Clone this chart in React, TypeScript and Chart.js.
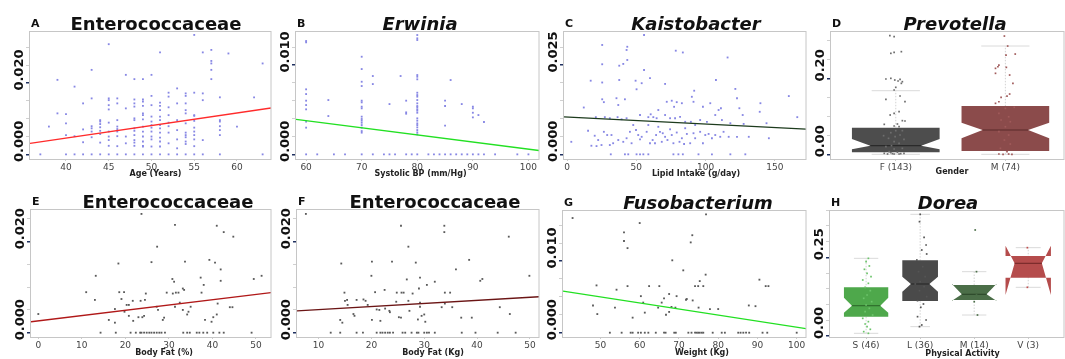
import React, { useEffect, useRef } from 'react';
import { Chart, registerables } from 'chart.js';

Chart.register(...registerables);

const FONT = "'DejaVu Sans', Verdana, sans-serif";
Chart.defaults.font.family = FONT;

type Pt = [number, number];

// ---------------- tick values ----------------
const ageTicks = [40, 45, 50, 55, 60];
const sbpTicks = [60, 70, 80, 90, 100];
const lipidTicks = [0, 50, 100, 150];
const genderGroups = ['F (143)', 'M (74)'];
const bodyFatPctTicks = [0, 10, 20, 30, 40, 50];
const bodyFatKgTicks = [10, 20, 30, 40, 50];
const weightTicks = [50, 60, 70, 80, 90, 100];
const activityGroups = ['S (46)', 'L (36)', 'M (14)', 'V (3)'];

const enteroAxisTicks = [0, 0.005, 0.01, 0.015, 0.02, 0.025, 0.03];
const erwiniaAxisTicks = [0, 0.002, 0.004, 0.006, 0.008, 0.01, 0.012];
const kaistoAxisTicks = [0, 0.005, 0.01, 0.015, 0.02, 0.025, 0.03];
const prevotellaAxisTicks = [0, 0.05, 0.1, 0.15, 0.2, 0.25, 0.3];
const entero2AxisTicks = [0, 0.005, 0.01, 0.015, 0.02, 0.025];
const fusoAxisTicks = [0, 0.0025, 0.005, 0.0075, 0.01, 0.0125, 0.015];
const doreaAxisTicks = [0, 0.05, 0.1, 0.15, 0.2, 0.25, 0.3, 0.35, 0.4];

// ---------------- A: Enterococcaceae vs age ----------------
const enteroByAge: Pt[] = [
  [37, 0], [38, 0.0078], [39, 0.0209], [39, 0.0115],
  [40, 0.0113], [40, 0.0087], [40, 0.0054], [40, 0],
  [41, 0.019], [41, 0.0051], [41, 0],
  [42, 0.0143], [42, 0.007], [42, 0.0034], [42, 0],
  [43, 0.0237], [43, 0.0157], [43, 0.0079], [43, 0.0073], [43, 0.0064], [43, 0.0048], [43, 0],
  [44, 0.0096], [44, 0.0092], [44, 0.0085], [44, 0.0076], [44, 0.0066], [44, 0.0057], [44, 0.0033], [44, 0],
  [45, 0.0309], [45, 0.0157], [45, 0.0152], [45, 0.0138], [45, 0.0126], [45, 0.0089], [45, 0.0064], [45, 0.005], [45, 0.004], [45, 0.0024], [45, 0],
  [46, 0.0157], [46, 0.0143], [46, 0.0096], [46, 0.0078], [46, 0.0071], [46, 0.0064], [46, 0.0051], [46, 0.0023], [46, 0],
  [47, 0.0223], [47, 0.0129], [47, 0.005], [47, 0.0031], [47, 0],
  [48, 0.0211], [48, 0.0154], [48, 0.0143], [48, 0.0134], [48, 0.0101], [48, 0.0096], [48, 0.0073], [48, 0.0066], [48, 0.0054], [48, 0.004], [48, 0.0033], [48, 0.0024], [48, 0],
  [49, 0.0211], [49, 0.0154], [49, 0.0148], [49, 0.0136], [49, 0.0115], [49, 0.011], [49, 0.0098], [49, 0.0078], [49, 0.0064], [49, 0.005], [49, 0.0036], [49, 0.0024], [49, 0.0022], [49, 0],
  [50, 0.0223], [50, 0.0164], [50, 0.0138], [50, 0.0106], [50, 0.0092], [50, 0.0082], [50, 0.0075], [50, 0.0064], [50, 0.005], [50, 0.0042], [50, 0.0022], [50, 0],
  [51, 0.0286], [51, 0.0145], [51, 0.0136], [51, 0.0124], [51, 0.0106], [51, 0.0096], [51, 0.0082], [51, 0.0073], [51, 0.0061], [51, 0.0047], [51, 0.0036], [51, 0.0022], [51, 0],
  [52, 0.0173], [52, 0.0162], [52, 0.0132], [52, 0.011], [52, 0.0089], [52, 0.0079], [52, 0.0061], [52, 0.0031], [52, 0],
  [53, 0.0185], [53, 0.0143], [53, 0.0096], [53, 0.0068], [53, 0.0042], [53, 0.0017], [53, 0],
  [54, 0.0171], [54, 0.0164], [54, 0.0143], [54, 0.0124], [54, 0.0115], [54, 0.0087], [54, 0.0061], [54, 0.0054], [54, 0.0048], [54, 0.0036], [54, 0.0029], [54, 0],
  [55, 0.0335], [55, 0.0173], [55, 0.011], [55, 0.0108], [55, 0.0094], [55, 0.0075], [55, 0.0064], [55, 0.0054], [55, 0.0042], [55, 0.0023], [55, 0],
  [56, 0.0286], [56, 0.0171], [56, 0.0152], [56, 0.004], [56, 0],
  [57, 0.0293], [57, 0.0262], [57, 0.0255], [57, 0.0237], [57, 0.0211],
  [58, 0.016], [58, 0.0096], [58, 0.0092], [58, 0.0079], [58, 0.0068], [58, 0.0054], [58, 0],
  [59, 0.0283], [60, 0.0078], [62, 0.016], [63, 0.0255], [63, 0],
];
const enteroAgeFit: Pt[] = [[35.79, 0.0031], [63.98, 0.013]];

// ---------------- B: Erwinia vs systolic BP ----------------
const erwiniaBySbp: Pt[] = [
  [60, 0.01269], [60, 0.01254], [60, 0.00728], [60, 0.00675], [60, 0.00601], [60, 0.00552], [60, 0.00504], [60, 0.00366], [60, 0.00299], [60, 0],
  [62, 0], [64, 0.00608], [64, 0.00429], [65, 0], [67, 0],
  [70, 0.01093], [70, 0.00955], [70, 0.00813], [70, 0.00765], [70, 0.00601], [70, 0.00582], [70, 0.00534], [70, 0.00515], [70, 0.00422], [70, 0.00396], [70, 0.00377], [70, 0.00354], [70, 0.00328], [70, 0.00299], [70, 0.00261], [70, 0.00243], [70, 0],
  [72, 0.00877], [72, 0.00787], [72, 0], [74, 0], [75, 0.00563], [75, 0], [76, 0], [77, 0.00877],
  [78, 0.00601], [78, 0.0047], [78, 0.00455], [78, 0], [79, 0],
  [80, 0.01336], [80, 0.01299], [80, 0.0128], [80, 0.00888], [80, 0.00869], [80, 0.0084], [80, 0.0069], [80, 0.00664], [80, 0.00646], [80, 0.00608], [80, 0.00571], [80, 0.00541], [80, 0.00526], [80, 0.00504], [80, 0.00489], [80, 0.00466], [80, 0.00403], [80, 0.00377], [80, 0.00347], [80, 0.00328], [80, 0.00302], [80, 0.00272], [80, 0.00246], [80, 0.00224], [80, 0],
  [82, 0], [83, 0], [84, 0], [85, 0.00601], [85, 0.00541], [85, 0.00321], [85, 0], [86, 0.00832], [86, 0], [87, 0], [88, 0.00563], [88, 0], [89, 0],
  [90, 0.00534], [90, 0.00515], [90, 0.00466], [90, 0.00414], [90, 0], [91, 0.0044], [91, 0], [92, 0.00362], [92, 0], [94, 0], [98, 0], [100, 0],
];
const erwiniaSbpFit: Pt[] = [[58.18, 0.00392], [101.9, 0.00043]];

// ---------------- C: Kaistobacter vs lipid intake ----------------
const kaistoByLipid: Pt[] = [
  [55.6, 0.0334], [25.4, 0.0306], [43.5, 0.0301], [43, 0.0292], [78.5, 0.029], [83.6, 0.0285], [115.9, 0.0271], [25.4, 0.0252], [43.5, 0.0264], [37.7, 0.0248], [40.6, 0.0253], [55.6, 0.0236],
  [160.1, 0.0163], [17.1, 0.0206], [37.7, 0.0208], [25.4, 0.0201], [49.5, 0.0206], [59.9, 0.0213], [53.9, 0.0199], [50.2, 0.0182], [70.8, 0.0197], [107.5, 0.0208], [121.5, 0.0183], [91.8, 0.0178],
  [35.7, 0.0157], [25.4, 0.0154], [26.6, 0.0146], [41.8, 0.0154], [37, 0.0138], [12.1, 0.0131], [72, 0.0147], [75.6, 0.015], [79.2, 0.0146], [77.3, 0.0133], [82.9, 0.0143], [90.1, 0.0161],
  [91.3, 0.0147], [98.1, 0.0133], [103.4, 0.0143], [111.1, 0.0129], [109.4, 0.0124], [122.7, 0.0157], [124.4, 0.0129], [139.6, 0.0143], [139.1, 0.0119], [126.8, 0.011], [166.2, 0.0104],
  [20.8, 0.0104], [27.3, 0.0104], [30.9, 0.0101], [36.5, 0.0104], [39.4, 0.0098], [43, 0.0101], [52.7, 0.011], [58.7, 0.0104], [60.4, 0.0112], [62.3, 0.0104], [64.7, 0.0101], [65.9, 0.0124],
  [70.8, 0.011], [74.4, 0.0101], [78, 0.0101], [81.6, 0.0105], [85.3, 0.0091], [89.4, 0.0091], [92.5, 0.0082], [96.1, 0.0096], [101, 0.0091], [107, 0.011], [111.8, 0.0096], [117.9, 0.0087],
  [127.5, 0.0085], [144, 0.0087],
  [15.2, 0.0066], [20, 0.0052], [26.6, 0.0063], [29, 0.0054], [30.9, 0.0026], [32.1, 0.0054], [37, 0.004], [43, 0.0045], [45.4, 0.0063], [47.8, 0.0082], [49.8, 0.0068], [51.4, 0.0054],
  [53.9, 0.0049], [57.5, 0.0063], [58.7, 0.0082], [61.8, 0.004], [64.3, 0.0054], [65.9, 0.0077], [67.1, 0.0063], [69.1, 0.0059], [70.8, 0.0049], [72.5, 0.004], [74.4, 0.007], [75.6, 0.0054],
  [79.2, 0.0061], [81.2, 0.0035], [82.9, 0.0045], [85.3, 0.0073], [86.5, 0.0057], [88.9, 0.0031], [91.3, 0.0059], [92.5, 0.0045], [96.1, 0.0063], [98.1, 0.0031], [99.8, 0.0054], [102.2, 0.0057],
  [104.6, 0.0045], [107, 0.0054], [110.6, 0.0049], [113, 0.0063], [116.7, 0.0049], [122.7, 0.0049], [131.2, 0.0049], [145.7, 0.0045], [22.5, 0.004], [24.9, 0.0026], [17.6, 0.0024], [3.1, 0.0035],
  [21.3, 0.0023], [33.3, 0.0031], [40.6, 0.0035], [46.6, 0.0031], [52.7, 0.0042], [59.9, 0.0031], [63.5, 0.0031], [68.4, 0.0035], [76.8, 0.0031], [84.5, 0.0029],
  [31.6, 0], [41.8, 0], [44.2, 0], [50.2, 0], [52.7, 0], [55.1, 0], [58.7, 0], [76.8, 0], [80.4, 0], [83.6, 0], [94.9, 0], [104.6, 0], [117.9, 0], [128.7, 0],
];
const kaistoLipidFit: Pt[] = [[-2.17, 0.01046], [172.5, 0.00706]];

// ---------------- D: Prevotella by gender ----------------
const prevotellaWhiskerLow = [0, 0];
const prevotellaQ1 = [0.0053, 0.0088];
const prevotellaNotchLow = [0.0132, 0.0421];
const prevotellaMedian = [0.0228, 0.064];
const prevotellaNotchHigh = [0.0404, 0.0833];
const prevotellaQ3 = [0.0702, 0.1272];
const prevotellaWhiskerHigh = [0.1675, 0.2851];
const prevotellaFemale: Pt[] = [
  [0.946, 0.3123], [0.985, 0.3096], [0.955, 0.2658], [0.985, 0.2684], [1.051, 0.2702], [0.91, 0.1982], [0.955, 0.2], [0.991, 0.1956], [1.039, 0.1974], [1.051, 0.1868], [1.021, 0.193],
  [1.06, 0.1912], [1.0, 0.1763], [0.985, 0.1693], [0.91, 0.1447], [1.039, 0.1535], [1.084, 0.1386], [1.03, 0.1123], [0.985, 0.1079], [0.949, 0.1035], [1.06, 0.0886], [1.084, 0.0877],
  [1.015, 0.0798], [0.895, 0.0789], [0.985, 0.0746], [1.03, 0.0728], [1.0, 0.0623], [1.06, 0.0623], [0.955, 0.057], [1.039, 0.0509], [0.889, 0.0491], [0.994, 0.0465], [0.934, 0.0421],
  [1.075, 0.0395], [0.985, 0.0333], [1.03, 0.0289], [0.961, 0.0228], [0.91, 0.0202], [1.06, 0.0158], [0.985, 0.014], [0.94, 0.007], [1.015, 0.0053], [0.895, 0.0026], [0.97, 0.0018],
  [1.045, 0.0018], [0.925, 0.0009], [1.075, 0.0026], [0.985, 0.0009], [1.03, 0.0009], [0.955, 0.0044],
];
const prevotellaMale: Pt[] = [
  [1.991, 0.3113], [2.021, 0.285], [2.006, 0.2613], [2.09, 0.2639], [1.932, 0.2305], [1.91, 0.2263], [1.941, 0.235], [2.009, 0.2289], [1.91, 0.2132], [2.039, 0.2087], [2.069, 0.1868],
  [2.039, 0.1587], [2.015, 0.1534], [1.961, 0.15], [1.941, 0.1384], [1.91, 0.1342], [2.0, 0.121], [2.081, 0.1237], [1.941, 0.1079], [2.03, 0.0989], [1.961, 0.0903], [2.045, 0.0858],
  [2.0, 0.0726], [1.941, 0.0595], [2.03, 0.0508], [1.991, 0.0376], [2.045, 0.0271], [1.955, 0.0158], [2.015, 0.0068], [1.941, 0.0008], [1.979, 0], [2.03, 0.0008], [2.06, 0],
];

// ---------------- E: Enterococcaceae vs body fat % ----------------
const enteroByFatPct: Pt[] = [
  [0, 0.0041], [13.2, 0.0125], [11, 0.0089], [13, 0.0072], [16.2, 0.0028], [17.6, 0.0052], [17.6, 0.0022], [18.4, 0.0152], [18.6, 0.0089], [19.1, 0.0074], [19.7, 0.0089], [19.8, 0.0046],
  [20.3, 0.0061], [20.8, 0.0061], [20.8, 0.0037], [21.7, 0.007], [21.8, 0.0026], [23, 0.0034], [23.5, 0.007], [23.7, 0.0261], [23.9, 0.0034], [24.3, 0.0037], [24.5, 0.0072], [24.7, 0.0086],
  [26, 0.0155], [27.3, 0.0189], [27.2, 0.0057], [27.5, 0.005], [28.6, 0.0028], [28.9, 0.0033], [29.5, 0.0088], [30.8, 0.0118], [31.2, 0.0112], [30.9, 0.0086], [31.4, 0.0237], [31.4, 0.0057],
  [31.6, 0.0088], [32.2, 0.0088], [32.5, 0.0066], [33.2, 0.0097], [33.5, 0.0094], [33.2, 0.005], [33.7, 0.0156], [34.2, 0.004], [34.5, 0.0046], [35, 0.0057], [37.3, 0.0121], [37.5, 0.0088],
  [38, 0.0105], [38.3, 0.0028], [39.3, 0.016], [39.8, 0.0024], [40.2, 0.0034], [40.6, 0.0154], [41, 0.0235], [41, 0.004], [41.2, 0.0064], [41.9, 0.0139], [41.9, 0.0114], [42.6, 0.0221],
  [44, 0.0056], [44.6, 0.0056], [44.8, 0.0211], [49.5, 0.0118], [51.3, 0.0125],
  [14.3, 0], [17.8, 0], [21.2, 0], [22.4, 0], [23.4, 0], [23.7, 0], [24.3, 0], [24.9, 0], [25.5, 0], [26, 0], [26.6, 0], [27.2, 0], [27.8, 0], [28.3, 0], [29.1, 0], [33.3, 0], [34.2, 0],
  [34.8, 0], [36.4, 0], [37, 0], [37.9, 0], [38.8, 0], [40.2, 0], [41.6, 0], [42.6, 0], [49, 0],
];
const enteroFatPctFit: Pt[] = [[-1.68, 0.0024], [53.46, 0.0088]];

// ---------------- F: Enterococcaceae vs body fat kg ----------------
const enteroByFatKg: Pt[] = [
  [7.6, 0.0261], [14.3, 0.0152], [14.1, 0.0028], [14.5, 0.0022], [14.9, 0.0088], [15, 0.007], [15.4, 0.0072], [15.5, 0.0061], [16.6, 0.0041], [16.8, 0.0037], [17.2, 0.0072], [18.5, 0.0073],
  [18.9, 0.007], [19.3, 0.0061], [20, 0.0125], [20.1, 0.0156], [20.1, 0.0028], [20.7, 0.0089], [21, 0.0051], [21.5, 0.005], [21.7, 0.0026], [22.5, 0.0094], [22.6, 0.0053], [23.4, 0.0048],
  [23.5, 0.0045], [23.9, 0.0156], [24.7, 0.0068], [24.8, 0.0088], [25.2, 0.0034], [25.6, 0.0033], [25.6, 0.0235], [25.7, 0.0088], [26.1, 0.0088], [26.7, 0.0117], [27, 0.0189], [27, 0.007],
  [27.2, 0.0048], [27.8, 0.0086], [28.4, 0.0154], [28.8, 0.0029], [29, 0.0097], [29.2, 0.0121], [29.2, 0.0066], [29.2, 0.0057], [29.5, 0.0037], [30, 0.004], [30.2, 0.0024], [30.5, 0.0105],
  [32, 0.0112], [33.3, 0.0056], [33.8, 0.0235], [33.8, 0.0221], [33.9, 0.0088], [33.9, 0.0064], [34.9, 0.0088], [35.3, 0.0056], [36, 0.0139], [37, 0.0033], [38.5, 0.016], [39, 0.0033],
  [40.6, 0.0114], [41, 0.0118], [44.3, 0.0056], [46, 0.0211], [46.2, 0.0041], [49.9, 0.0125],
  [12.3, 0], [14.1, 0], [17.2, 0], [18.4, 0], [21, 0], [21.7, 0], [22.1, 0], [22.6, 0], [23.1, 0], [23.5, 0], [24.1, 0], [25.9, 0], [26.4, 0], [27.6, 0], [28.6, 0], [28.9, 0], [30, 0],
  [30.5, 0], [30.9, 0], [32, 0], [37.1, 0], [39.7, 0], [43.9, 0], [47.3, 0],
];
const enteroFatKgFit: Pt[] = [[5.92, 0.0048], [51.72, 0.0079]];

// ---------------- G: Fusobacterium vs weight ----------------
const fusoByWeight: Pt[] = [
  [42.9, 0.016], [60, 0.0153], [56, 0.014], [56, 0.0128], [56.9, 0.0118], [76.9, 0.0165], [73.4, 0.0136], [73, 0.0126], [68.3, 0.0101], [71.1, 0.0087], [76.8, 0.0081], [75.3, 0.0072],
  [74.1, 0.0065], [74.9, 0.0065], [76.2, 0.0065], [90.5, 0.0074], [92.1, 0.0065], [92.8, 0.0065], [49, 0.0066], [54.1, 0.006], [56.9, 0.0065], [62.4, 0.0065], [65, 0.0065], [60.3, 0.0051],
  [60.9, 0.0042], [61.3, 0.0028], [48.1, 0.0038], [49.2, 0.0026], [53.7, 0.0035], [58.2, 0.0021], [64.7, 0.0035], [65.6, 0.0042], [66.2, 0.0048], [67.5, 0.0054], [69.4, 0.0051], [68.1, 0.0036],
  [69.1, 0.0035], [66.7, 0.0025], [67.5, 0.0029], [71.8, 0.0046], [72, 0.0047], [73.5, 0.0045], [75, 0.0035], [77.9, 0.0033], [80, 0.0033], [87.8, 0.0038], [89.5, 0.0037],
  [52.4, 0], [55.4, 0], [57.7, 0], [58.2, 0], [59.6, 0], [60.3, 0], [61.3, 0], [62.2, 0], [64.1, 0], [66.2, 0], [66.6, 0], [68.8, 0], [69.2, 0], [72.4, 0], [73.2, 0], [74.1, 0], [74.5, 0],
  [74.9, 0], [75.3, 0], [75.8, 0], [76.2, 0], [78.6, 0], [80.9, 0], [81.7, 0], [85.1, 0], [85.7, 0], [86.4, 0], [87.1, 0], [87.9, 0], [91.3, 0], [92.5, 0], [100, 0],
];
const fusoWeightFit: Pt[] = [[40.46, 0.0058], [102.37, 0.00057]];

// ---------------- H: Dorea by physical activity ----------------
const doreaWhiskerLow = [0.0085, 0.0297, 0.0667, 0.1547];
const doreaQ1 = [0.0614, 0.1112, 0.1144, 0.1854];
const doreaNotchLow = [0.0742, 0.1409, 0.1123, 0.1303];
const doreaMedian = [0.0964, 0.1653, 0.1324, 0.2309];
const doreaNotchHigh = [0.1218, 0.1886, 0.1653, 0.2871];
const doreaQ3 = [0.1547, 0.2405, 0.1621, 0.2542];
const doreaWhiskerHigh = [0.2468, 0.3867, 0.2044, 0.2807];
const doreaSedentary: Pt[] = [
  [1.042, 0.2468], [1.0, 0.2362], [1.06, 0.2225], [0.969, 0.2119], [1.018, 0.1992], [1.091, 0.1886], [0.938, 0.178], [1.042, 0.1674], [0.982, 0.1547], [1.078, 0.1441], [1.018, 0.1303],
  [0.956, 0.1197], [1.103, 0.1091], [1.0, 0.0985], [1.06, 0.0879], [0.982, 0.0773], [1.121, 0.0667], [0.938, 0.0561], [1.042, 0.0456], [0.982, 0.0381], [1.018, 0.0297], [1.078, 0.0212],
  [0.956, 0.0138], [1.042, 0.0085],
];
const doreaLight: Pt[] = [
  [2.001, 0.3867], [1.988, 0.3633], [2.073, 0.3136], [2.11, 0.2892], [2.03, 0.2733], [2.121, 0.2606], [1.939, 0.2415], [2.048, 0.2203], [1.97, 0.2044], [2.092, 0.1886], [2.001, 0.1727],
  [1.91, 0.1653], [2.073, 0.1568], [1.988, 0.1441], [2.121, 0.125], [1.952, 0.1123], [2.061, 0.1017], [2.012, 0.0911], [1.952, 0.0614], [2.11, 0.0508], [2.03, 0.035], [1.988, 0.0297],
];
const doreaModerate: Pt[] = [
  [3.019, 0.3369], [3.043, 0.2044], [3.001, 0.1589], [3.061, 0.1515], [3.019, 0.1409], [3.043, 0.1303], [3.001, 0.1091], [3.061, 0.0667],
];
const doreaVigorous: Pt[] = [[3.984, 0.2807], [3.984, 0.1547]];

// ---------------- panel specs ----------------
interface BoxDef {
  pos: number; width: number; wLo: number; q1: number; nLo: number; med: number; nHi: number; q3: number; wHi: number;
  fill: string; medianColor: string; inset: number;
}
interface PanelSpec {
  letter: string; title: string; italic: boolean; titleDx: number;
  xTitle: string; xTitleDx: number; xTitleDy: number;
  area: { l: number; t: number; r: number; b: number };
  padRight: number;
  xMin: number; xMax: number; xTicks: number[]; xLabels?: string[];
  yMin: number; yMax: number; yTicks: number[]; yMajor: number[]; yLabels: string[];
  points?: Pt[]; pointColor?: string;
  fit?: Pt[]; fitColor?: string;
  boxes?: BoxDef[];
  jitter?: { pts: Pt[]; color: string }[];
}

function boxesFrom(
  pos: number[], widths: number[], wLo: number[], q1: number[], nLo: number[], med: number[], nHi: number[], q3: number[], wHi: number[],
  fills: string[], medColors: string[], insets: number[]
): BoxDef[] {
  return pos.map((p, i) => ({
    pos: p, width: widths[i], wLo: wLo[i], q1: q1[i], nLo: nLo[i], med: med[i], nHi: nHi[i], q3: q3[i], wHi: wHi[i],
    fill: fills[i], medianColor: medColors[i], inset: insets[i],
  }));
}

const PANELS: PanelSpec[] = [
  {
    letter: 'A', title: 'Enterococcaceae', italic: false, titleDx: 5.5, xTitle: 'Age (Years)', xTitleDx: 5, xTitleDy: 15,
    area: { l: 30, t: 31, r: 271, b: 159 }, padRight: 6,
    xMin: 35.79, xMax: 63.98, xTicks: ageTicks,
    yMin: -0.0013, yMax: 0.0346, yTicks: enteroAxisTicks, yMajor: [0, 0.02], yLabels: ['0.000', '0.020'],
    points: enteroByAge, pointColor: '#8787e4', fit: enteroAgeFit, fitColor: '#ff2b2b',
  },
  {
    letter: 'B', title: 'Erwinia', italic: true, titleDx: 2.5, xTitle: 'Systolic BP (mm/Hg)', xTitleDx: 3, xTitleDy: 15,
    area: { l: 296, t: 31, r: 539, b: 159 }, padRight: 6,
    xMin: 58.18, xMax: 101.9, xTicks: sbpTicks,
    yMin: -0.00052, yMax: 0.01381, yTicks: erwiniaAxisTicks, yMajor: [0, 0.01], yLabels: ['0.000', '0.010'],
    points: erwiniaBySbp, pointColor: '#8787e4', fit: erwiniaSbpFit, fitColor: '#22e022',
  },
  {
    letter: 'C', title: 'Kaistobacter', italic: true, titleDx: 11, xTitle: 'Lipid Intake (g/day)', xTitleDx: 11, xTitleDy: 15,
    area: { l: 564, t: 31, r: 806, b: 159 }, padRight: 6,
    xMin: -2.17, xMax: 172.5, xTicks: lipidTicks,
    yMin: -0.00131, yMax: 0.03451, yTicks: kaistoAxisTicks, yMajor: [0, 0.025], yLabels: ['0.000', '0.025'],
    points: kaistoByLipid, pointColor: '#8787e4', fit: kaistoLipidFit, fitColor: '#1d3b1d',
  },
  {
    letter: 'D', title: 'Prevotella', italic: true, titleDx: 7.5, xTitle: 'Gender', xTitleDx: 4.5, xTitleDy: 13,
    area: { l: 831, t: 31, r: 1068, b: 159 }, padRight: 0,
    xMin: 0.409, xMax: 2.535, xTicks: [1, 2], xLabels: genderGroups,
    yMin: -0.0123, yMax: 0.3246, yTicks: prevotellaAxisTicks, yMajor: [0, 0.2], yLabels: ['0.00', '0.20'],
    boxes: boxesFrom([1, 2], [0.8, 0.8], prevotellaWhiskerLow, prevotellaQ1, prevotellaNotchLow, prevotellaMedian, prevotellaNotchHigh,
      prevotellaQ3, prevotellaWhiskerHigh, ['#4d4d4d', '#8b4b4b'], ['#2a2a2a', '#5a2a2a'], [0.21, 0.24]),
    jitter: [{ pts: prevotellaFemale, color: '#6e6e6e' }, { pts: prevotellaMale, color: '#a05a5a' }],
  },
  {
    letter: 'E', title: 'Enterococcaceae', italic: false, titleDx: 17, xTitle: 'Body Fat (%)', xTitleDx: 13, xTitleDy: 16,
    area: { l: 31, t: 209, r: 271, b: 337 }, padRight: 6,
    xMin: -1.68, xMax: 53.46, xTicks: bodyFatPctTicks,
    yMin: -0.00095, yMax: 0.02718, yTicks: entero2AxisTicks, yMajor: [0, 0.02], yLabels: ['0.000', '0.020'],
    points: enteroByFatPct, pointColor: '#5a5a5a', fit: enteroFatPctFit, fitColor: '#b01818',
  },
  {
    letter: 'F', title: 'Enterococcaceae', italic: false, titleDx: 17, xTitle: 'Body Fat (Kg)', xTitleDx: 15, xTitleDy: 16,
    area: { l: 297, t: 209, r: 539, b: 337 }, padRight: 6,
    xMin: 5.92, xMax: 51.72, xTicks: bodyFatKgTicks,
    yMin: -0.00095, yMax: 0.02718, yTicks: entero2AxisTicks, yMajor: [0, 0.02], yLabels: ['0.000', '0.020'],
    points: enteroByFatKg, pointColor: '#5a5a5a', fit: enteroFatKgFit, fitColor: '#6b1515',
  },
  {
    letter: 'G', title: 'Fusobacterium', italic: true, titleDx: 13.5, xTitle: 'Weight (Kg)', xTitleDx: 17.5, xTitleDy: 16,
    area: { l: 563, t: 210, r: 806, b: 337 }, padRight: 6,
    xMin: 40.46, xMax: 102.37, xTicks: weightTicks,
    yMin: -0.0006, yMax: 0.01712, yTicks: fusoAxisTicks, yMajor: [0, 0.01], yLabels: ['0.000', '0.010'],
    points: fusoByWeight, pointColor: '#5a5a5a', fit: fusoWeightFit, fitColor: '#22e022',
  },
  {
    letter: 'H', title: 'Dorea', italic: true, titleDx: 1, xTitle: 'Physical Activity', xTitleDx: 15.5, xTitleDy: 17,
    area: { l: 830, t: 210, r: 1068, b: 337 }, padRight: 0,
    xMin: 0.332, xMax: 4.662, xTicks: [1, 2, 3, 4], xLabels: activityGroups,
    yMin: -0.0032, yMax: 0.4004, yTicks: doreaAxisTicks, yMajor: [0, 0.25], yLabels: ['0.00', '0.25'],
    boxes: boxesFrom([1, 2, 3, 4], [0.82, 0.66, 0.82, 0.84], doreaWhiskerLow, doreaQ1, doreaNotchLow, doreaMedian, doreaNotchHigh,
      doreaQ3, doreaWhiskerHigh, ['#4ea84b', '#4a4a4a', '#4b6e48', '#b54c4c'], ['#2f6e2d', '#2a2a2a', '#2e4a2c', '#7a2a2a'], [0.18, 0.24, 0.22, 0.2]),
    jitter: [
      { pts: doreaSedentary, color: '#6cc46a' }, { pts: doreaLight, color: '#555555' },
      { pts: doreaModerate, color: '#4b6e48' }, { pts: doreaVigorous, color: '#c05050' },
    ],
  },
];

const Y_AXIS_W = 30;
const TOP_PAD = 31;
const X_AXIS_H = 24;

function near(a: number, b: number) { return Math.abs(a - b) < 1e-9; }

function makeDecor(spec: PanelSpec) {
  return {
    id: 'decor' + spec.letter,
    beforeDatasetsDraw(chart: any) {
      if (!spec.boxes) return;
      const { ctx } = chart;
      const xs = chart.scales.x, ys = chart.scales.y;
      ctx.save();
      for (const b of spec.boxes) {
        const cx = xs.getPixelForValue(b.pos);
        const half = (xs.getPixelForValue(b.pos + b.width / 2) - xs.getPixelForValue(b.pos - b.width / 2)) / 2;
        const py = (v: number) => ys.getPixelForValue(v);
        ctx.strokeStyle = '#d2d2d2';
        ctx.lineWidth = 1;
        ctx.setLineDash([1.5, 1.5]);
        ctx.beginPath(); ctx.moveTo(cx, py(b.wLo)); ctx.lineTo(cx, py(b.wHi)); ctx.stroke();
        ctx.setLineDash([]);
        const cap = half * 0.55;
        ctx.strokeStyle = '#dadada';
        for (const v of [b.wLo, b.wHi]) {
          ctx.beginPath(); ctx.moveTo(cx - cap, py(v)); ctx.lineTo(cx + cap, py(v)); ctx.stroke();
        }
        const L = cx - half, R = cx + half, ins = half * 2 * b.inset;
        ctx.fillStyle = b.fill;
        ctx.beginPath();
        ctx.moveTo(L, py(b.q3)); ctx.lineTo(L, py(b.nHi)); ctx.lineTo(L + ins, py(b.med)); ctx.lineTo(L, py(b.nLo)); ctx.lineTo(L, py(b.q1));
        ctx.lineTo(R, py(b.q1)); ctx.lineTo(R, py(b.nLo)); ctx.lineTo(R - ins, py(b.med)); ctx.lineTo(R, py(b.nHi)); ctx.lineTo(R, py(b.q3));
        ctx.closePath();
        ctx.fill();
        ctx.strokeStyle = b.medianColor;
        ctx.lineWidth = 1.2;
        ctx.beginPath(); ctx.moveTo(L + ins, py(b.med)); ctx.lineTo(R - ins, py(b.med)); ctx.stroke();
      }
      ctx.restore();
    },
    afterDraw(chart: any) {
      const { ctx, chartArea: a } = chart;
      const ys = chart.scales.y;
      ctx.save();
      // frame
      ctx.strokeStyle = '#c6c6c6';
      ctx.lineWidth = 1;
      ctx.strokeRect(a.left - 0.5, a.top + 0.5, a.right - a.left + 0.5, a.bottom - a.top);
      // panel letter
      ctx.fillStyle = '#111';
      ctx.font = `bold 11px ${FONT}`;
      ctx.textAlign = 'left';
      ctx.textBaseline = 'alphabetic';
      ctx.fillText(spec.letter, a.left + 1, a.top - 4);
      // panel title
      ctx.font = `${spec.italic ? 'italic ' : ''}bold 18px ${FONT}`;
      ctx.textAlign = 'center';
      ctx.fillText(spec.title, (a.left + a.right) / 2 + spec.titleDx, a.top - 1.5);
      // rotated y labels at the major ticks
      ctx.font = `bold 13px ${FONT}`;
      ctx.textBaseline = 'middle';
      spec.yMajor.forEach((v, i) => {
        const py = ys.getPixelForValue(v);
        ctx.save();
        ctx.translate(a.left - 10, py - 13);
        ctx.rotate(-Math.PI / 2);
        ctx.fillText(spec.yLabels[i], 0, 0);
        ctx.restore();
      });
      // x axis title
      ctx.font = `bold 8px ${FONT}`;
      ctx.fillStyle = '#222';
      ctx.textAlign = 'center';
      ctx.textBaseline = 'middle';
      ctx.fillText(spec.xTitle, (a.left + a.right) / 2 + spec.xTitleDx, a.bottom + spec.xTitleDy);
      ctx.restore();
    },
  };
}

function buildConfig(spec: PanelSpec): any {
  const datasets: any[] = [];
  if (spec.fit) {
    datasets.push({
      type: 'line', data: spec.fit.map(([x, y]) => ({ x, y })), borderColor: spec.fitColor, borderWidth: 1.3,
      pointRadius: 0, fill: false, tension: 0,
    });
  }
  if (spec.points) {
    datasets.push({
      type: 'scatter', data: spec.points.map(([x, y]) => ({ x, y })), pointStyle: 'rect', pointRadius: 1.3,
      backgroundColor: spec.pointColor, borderWidth: 0,
    });
  }
  if (spec.jitter) {
    for (const j of spec.jitter) {
      datasets.push({
        type: 'scatter', data: j.pts.map(([x, y]) => ({ x, y })), pointStyle: 'rect', pointRadius: 1.2,
        backgroundColor: j.color, borderWidth: 0,
      });
    }
  }
  return {
    type: 'scatter',
    data: { datasets },
    plugins: [makeDecor(spec)],
    options: {
      animation: false,
      responsive: false,
      events: [],
      layout: { padding: { top: TOP_PAD, right: spec.padRight, left: 0, bottom: 0 } },
      plugins: { legend: { display: false }, tooltip: { enabled: false }, title: { display: false } },
      scales: {
        x: {
          type: 'linear', min: spec.xMin, max: spec.xMax,
          afterBuildTicks: (s: any) => { s.ticks = spec.xTicks.map((v) => ({ value: v })); },
          afterFit: (s: any) => { s.height = X_AXIS_H; },
          ticks: {
            font: { size: 9, family: FONT }, color: '#444', padding: 1, maxRotation: 0, autoSkip: false,
            callback: (v: any) => {
              const n = Number(v);
              if (spec.xLabels) return spec.xLabels[Math.round(n) - 1];
              return String(n);
            },
          },
          grid: { drawOnChartArea: false, drawTicks: true, tickLength: 2, color: '#cccccc' },
          border: { display: false },
        },
        y: {
          type: 'linear', min: spec.yMin, max: spec.yMax,
          afterBuildTicks: (s: any) => { s.ticks = spec.yTicks.map((v) => ({ value: v })); },
          afterFit: (s: any) => { s.width = Y_AXIS_W; },
          ticks: { display: false },
          grid: {
            drawOnChartArea: false, drawTicks: true, tickLength: 4,
            color: (c: any) => (c.tick && spec.yMajor.some((m) => near(m, c.tick.value)) ? '#1f3060' : '#d0d0d0'),
            lineWidth: (c: any) => (c.tick && spec.yMajor.some((m) => near(m, c.tick.value)) ? 1.5 : 1),
          },
          border: { display: false },
        },
      },
    },
  };
}

function PanelChart({ spec }: { spec: PanelSpec }) {
  const ref = useRef<HTMLCanvasElement>(null);
  const left = spec.area.l - Y_AXIS_W;
  const top = spec.area.t - TOP_PAD;
  const width = spec.area.r - spec.area.l + Y_AXIS_W + spec.padRight;
  const height = spec.area.b - spec.area.t + TOP_PAD + X_AXIS_H;
  useEffect(() => {
    if (!ref.current) return;
    const chart = new Chart(ref.current, buildConfig(spec));
    return () => chart.destroy();
  }, [spec]);
  return (
    <canvas
      ref={ref}
      width={width}
      height={height}
      style={{ position: 'absolute', left, top, width, height }}
    />
  );
}

export default function App() {
  return (
    <div style={{ position: 'absolute', left: 0, top: 0, width: 1065, height: 359, overflow: 'hidden', background: '#fff' }}>
      {PANELS.map((p) => (
        <PanelChart key={p.letter} spec={p} />
      ))}
    </div>
  );
}
